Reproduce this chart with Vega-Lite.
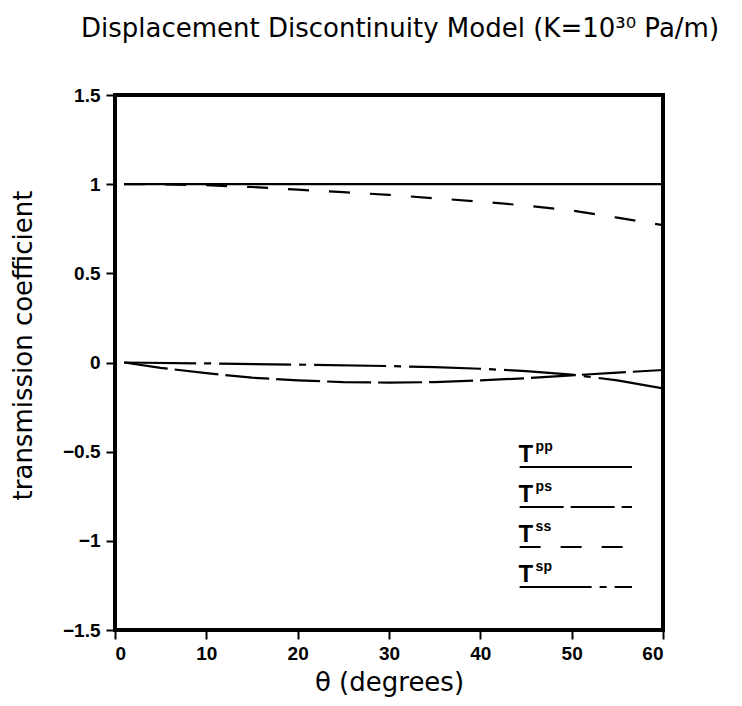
{
  "$schema": "https://vega.github.io/schema/vega-lite/v6.json",
  "width": 548,
  "height": 535,
  "autosize": "none",
  "padding": {"left": 115, "top": 95, "right": 79, "bottom": 76},
  "background": "white",
  "title": {
    "text": "Displacement Discontinuity Model (K=10³⁰ Pa/m)",
    "font": "DejaVu Sans",
    "fontSize": 26,
    "fontWeight": "normal",
    "color": "black",
    "anchor": "middle",
    "offset": 44,
    "dx": 11
  },
  "config": {
    "view": {"stroke": "black", "strokeWidth": 4},
    "axis": {
      "domain": false,
      "grid": false,
      "ticks": true,
      "tickColor": "black",
      "tickWidth": 2,
      "tickSize": 9,
      "labelFont": "Liberation Sans",
      "labelFontWeight": "bold",
      "labelFontSize": 19,
      "labelColor": "black",
      "titleFont": "DejaVu Sans",
      "titleFontWeight": "normal",
      "titleColor": "black",
      "titleFontSize": 26
    }
  },
  "datasets": {
    "curves": [
      {"theta": 1, "value": 1.0, "series": "Tpp"},
      {"theta": 10, "value": 1.0, "series": "Tpp"},
      {"theta": 20, "value": 1.0, "series": "Tpp"},
      {"theta": 30, "value": 1.0, "series": "Tpp"},
      {"theta": 40, "value": 1.0, "series": "Tpp"},
      {"theta": 50, "value": 1.0, "series": "Tpp"},
      {"theta": 60, "value": 1.0, "series": "Tpp"},
      {"theta": 1, "value": 1.0, "series": "Tss"},
      {"theta": 5, "value": 0.999, "series": "Tss"},
      {"theta": 10, "value": 0.994, "series": "Tss"},
      {"theta": 15, "value": 0.984, "series": "Tss"},
      {"theta": 20, "value": 0.969, "series": "Tss"},
      {"theta": 25, "value": 0.955, "series": "Tss"},
      {"theta": 30, "value": 0.94, "series": "Tss"},
      {"theta": 35, "value": 0.921, "series": "Tss"},
      {"theta": 40, "value": 0.902, "series": "Tss"},
      {"theta": 45, "value": 0.88, "series": "Tss"},
      {"theta": 50, "value": 0.852, "series": "Tss"},
      {"theta": 55, "value": 0.812, "series": "Tss"},
      {"theta": 60, "value": 0.77, "series": "Tss"},
      {"theta": 1, "value": 0.0, "series": "Tsp"},
      {"theta": 10, "value": -0.005, "series": "Tsp"},
      {"theta": 20, "value": -0.012, "series": "Tsp"},
      {"theta": 30, "value": -0.02, "series": "Tsp"},
      {"theta": 35, "value": -0.026, "series": "Tsp"},
      {"theta": 40, "value": -0.035, "series": "Tsp"},
      {"theta": 45, "value": -0.048, "series": "Tsp"},
      {"theta": 50, "value": -0.068, "series": "Tsp"},
      {"theta": 55, "value": -0.1, "series": "Tsp"},
      {"theta": 60, "value": -0.145, "series": "Tsp"},
      {"theta": 1, "value": 0.0, "series": "Tps"},
      {"theta": 5, "value": -0.03, "series": "Tps"},
      {"theta": 10, "value": -0.06, "series": "Tps"},
      {"theta": 15, "value": -0.085, "series": "Tps"},
      {"theta": 20, "value": -0.1, "series": "Tps"},
      {"theta": 25, "value": -0.11, "series": "Tps"},
      {"theta": 30, "value": -0.113, "series": "Tps"},
      {"theta": 35, "value": -0.11, "series": "Tps"},
      {"theta": 40, "value": -0.1, "series": "Tps"},
      {"theta": 45, "value": -0.088, "series": "Tps"},
      {"theta": 50, "value": -0.072, "series": "Tps"},
      {"theta": 55, "value": -0.057, "series": "Tps"},
      {"theta": 60, "value": -0.042, "series": "Tps"}
    ],
    "legend": [
      {"series": "Tpp", "sup": "pp"},
      {"series": "Tps", "sup": "ps"},
      {"series": "Tss", "sup": "ss"},
      {"series": "Tsp", "sup": "sp"}
    ]
  },
  "layer": [
    {
      "data": {"name": "curves"},
      "mark": {"type": "line", "color": "black", "strokeWidth": 2.2, "clip": true},
      "encoding": {
        "x": {
          "field": "theta", "type": "quantitative",
          "scale": {"domain": [0, 60], "nice": false},
          "axis": {"values": [0, 10, 20, 30, 40, 50, 60], "title": "θ (degrees)", "labelPadding": 5, "titlePadding": 6}
        },
        "y": {
          "field": "value", "type": "quantitative",
          "scale": {"domain": [-1.5, 1.5], "nice": false},
          "axis": {"values": [-1.5, -1, -0.5, 0, 0.5, 1, 1.5], "format": ".1~f", "title": "transmission coefficient", "labelPadding": 6, "titlePadding": 26, "titleY": 250}
        },
        "strokeDash": {
          "field": "series", "type": "nominal",
          "scale": {"domain": ["Tpp", "Tps", "Tss", "Tsp"], "range": [[1, 0], [44, 7], [21, 20], [72, 8, 7, 8]]},
          "legend": null
        },
        "detail": {"field": "series"}
      }
    },
    {
      "data": {"name": "legend"},
      "layer": [
        {
          "mark": {"type": "rule", "color": "black", "strokeWidth": 2},
          "encoding": {
            "x": {"datum": 44.3, "type": "quantitative"},
            "x2": {"datum": 56.6},
            "y": {"field": "series", "type": "ordinal", "scale": {"type": "point", "domain": ["Tpp", "Tps", "Tss", "Tsp"], "range": [372, 492], "padding": 0}, "axis": null},
            "strokeDash": {"field": "series", "type": "nominal", "legend": null}
          }
        },
        {
          "mark": {"type": "text", "font": "Liberation Sans", "fontWeight": "bold", "fontSize": 24, "align": "left", "baseline": "alphabetic", "dy": -5, "dx": -1, "text": "T"},
          "encoding": {
            "x": {"datum": 44.3, "type": "quantitative"},
            "y": {"field": "series", "type": "ordinal", "scale": {"type": "point", "domain": ["Tpp", "Tps", "Tss", "Tsp"], "range": [372, 492], "padding": 0}, "axis": null}
          }
        },
        {
          "mark": {"type": "text", "font": "Liberation Sans", "fontWeight": "bold", "fontSize": 14, "align": "left", "baseline": "alphabetic", "dy": -16, "dx": 16},
          "encoding": {
            "x": {"datum": 44.3, "type": "quantitative"},
            "y": {"field": "series", "type": "ordinal", "scale": {"type": "point", "domain": ["Tpp", "Tps", "Tss", "Tsp"], "range": [372, 492], "padding": 0}, "axis": null},
            "text": {"field": "sup"}
          }
        }
      ]
    }
  ],
  "resolve": {"scale": {"y": "independent"}, "axis": {"y": "independent"}}
}
